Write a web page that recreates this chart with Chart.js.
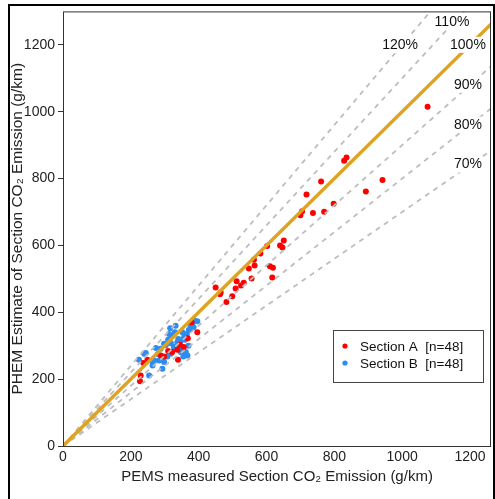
<!DOCTYPE html>
<html>
<head>
<meta charset="utf-8">
<script src="https://cdn.jsdelivr.net/npm/chart.js@4"></script>
<style>
  html, body { margin: 0; padding: 0; background: #fff; overflow: hidden; }
  #wrap { position: relative; width: 495px; height: 499px; }
  #myChart { position: absolute; left: 0; top: 0; }
  #frame { position: absolute; left: 8px; top: 4px; width: 483px; height: 600px; border: 2px solid #000; pointer-events: none; }
</style>
</head>
<body>
<div id="wrap">
  <canvas id="myChart" width="495" height="499"></canvas>
  <div id="frame"></div>
</div>
<script>
// Section A (red) - PEMS measured vs PHEM estimate, g/km
var sectionA = [
  [1075, 1015], [836, 863], [829, 853], [942, 796], [893, 761], [761, 791],
  [718, 752], [798, 725], [770, 701], [737, 697], [705, 702], [651, 615],
  [647, 594], [602, 598], [582, 576], [563, 557], [565, 540], [548, 531],
  [610, 538], [619, 533], [512, 493], [533, 488], [556, 501], [617, 504],
  [509, 471], [499, 448], [482, 431], [465, 459], [450, 474], [463, 454],
  [379, 370], [396, 340], [339, 258], [310, 284], [288, 271], [249, 258],
  [237, 248], [229, 211], [227, 194], [337, 288], [322, 281], [345, 303],
  [368, 322], [298, 268], [525, 480], [640, 600], [700, 690], [356, 296]
];
// Section B (blue)
var sectionB = [
  [396, 373], [332, 360], [316, 352], [313, 335], [322, 330], [371, 347],
  [376, 360], [365, 335], [357, 325], [347, 315], [342, 304], [332, 296],
  [318, 307], [303, 301], [288, 291], [274, 293], [308, 268], [318, 276],
  [362, 281], [367, 271], [355, 268], [244, 278], [224, 258], [264, 251],
  [283, 256], [293, 231], [254, 211], [298, 251], [376, 350], [337, 310],
  [298, 306], [347, 281], [327, 296], [269, 256], [298, 266], [264, 241],
  [239, 276], [380, 365], [388, 375], [352, 340], [360, 318], [340, 320],
  [330, 340], [385, 355], [345, 292], [310, 318], [370, 300], [280, 275]
];
// estimate / measured ratio lines
var ratios = [0.7, 0.8, 0.9, 1.1, 1.2];
var ratioLabels = ['70%', '80%', '90%', '100%', '110%', '120%'];
var labelRatios = [0.7, 0.8, 0.9, 1.0, 1.1, 1.2];
var labelAtX = [1194, 1194, 1194, 1194, 1147, 994];
var xTicks = [0, 200, 400, 600, 800, 1000, 1200];
var yTicks = [0, 200, 400, 600, 800, 1000, 1200];

var XMAX = 1262, YMAX = 1300;
var FONT = '"Liberation Sans", Arial, Helvetica, sans-serif';

function toPts(arr) {
  return arr.map(function (p) { return { x: p[0], y: p[1] }; });
}

var datasets = [];
datasets.push({
  type: 'line',
  label: 'ratio 100%',
  data: [{ x: 0, y: 0 }, { x: 1400, y: 1400 }],
  borderColor: '#DEA322',
  borderWidth: 3.5,
  pointRadius: 0,
  order: 0
});
ratios.forEach(function (r) {
  datasets.push({
    type: 'line',
    label: 'ratio ' + Math.round(r * 100) + '%',
    data: [{ x: 0, y: 0 }, { x: 1600, y: 1600 * r }],
    borderColor: '#BDBDBD',
    borderWidth: 1.8,
    borderDash: [5, 5],
    pointRadius: 0,
    order: 1
  });
});
datasets.push({
  label: 'Section A',
  note: '[n=48]',
  data: toPts(sectionA),
  backgroundColor: '#FF0000',
  borderColor: '#FF0000',
  pointRadius: 3,
  borderWidth: 0,
  order: 2
});
datasets.push({
  label: 'Section B',
  note: '[n=48]',
  data: toPts(sectionB),
  backgroundColor: '#2B8CF2',
  borderColor: '#2B8CF2',
  pointRadius: 3,
  borderWidth: 0,
  order: 3
});

var extras = {
  id: 'extras',
  afterDatasetsDraw: function (chart) {
    var c = chart.ctx, a = chart.chartArea;
    var xs = chart.scales.x, ys = chart.scales.y;
    c.save();
    // plot box
    c.strokeStyle = '#333';
    c.lineWidth = 1;
    c.strokeRect(a.left + 0.5, a.top + 0.5, a.right - a.left - 1, a.bottom - a.top);
    // ratio labels
    c.font = '14px ' + FONT;
    c.textAlign = 'center';
    c.textBaseline = 'middle';
    labelRatios.forEach(function (r, i) {
      var px = xs.getPixelForValue(labelAtX[i]);
      var py = ys.getPixelForValue(labelAtX[i] * r) - 2;
      var w = c.measureText(ratioLabels[i]).width;
      c.fillStyle = '#fff';
      c.fillRect(px - w / 2 - 1, py - 8, w + 2, 16);
      c.fillStyle = '#111';
      c.fillText(ratioLabels[i], px, py);
    });
    // legend box
    var lx = a.right - 158, ly = a.bottom - 116, lw = 150, lh = 52;
    c.fillStyle = '#fff';
    c.fillRect(lx, ly, lw, lh);
    c.strokeStyle = '#444';
    c.strokeRect(lx + 0.5, ly + 0.5, lw, lh);
    c.textAlign = 'left';
    c.font = '13.5px ' + FONT;
    var items = chart.data.datasets.filter(function (d) { return d.note; });
    items.forEach(function (d, i) {
      var cy = ly + 16 + i * 17;
      c.fillStyle = d.backgroundColor;
      c.beginPath();
      c.arc(lx + 12, cy, 2.6, 0, Math.PI * 2);
      c.fill();
      c.fillStyle = '#111';
      c.fillText(d.label + '  ' + d.note, lx + 27, cy + 1);
    });
    c.restore();
  }
};

var ctx = document.getElementById('myChart').getContext('2d');
var myChart = new Chart(ctx, {
  type: 'scatter',
  data: { datasets: datasets },
  plugins: [extras],
  options: {
    responsive: false,
    animation: false,
    layout: { padding: { top: 9, right: 4, left: 0, bottom: 0 } },
    plugins: {
      legend: { display: false },
      tooltip: { enabled: false }
    },
    scales: {
      x: {
        type: 'linear',
        min: 0,
        max: XMAX,
        afterFit: function (s) { s.height = 53; },
        afterBuildTicks: function (s) { s.ticks = xTicks.map(function (v) { return { value: v }; }); },
        grid: { display: false, drawTicks: false },
        border: { display: false },
        ticks: {
          color: '#222', padding: 3, maxRotation: 0,
          font: { family: FONT, size: 14 },
          callback: function (v) { return String(v); }
        },
        title: {
          display: true,
          text: 'PEMS measured Section CO\u2082 Emission (g/km)',
          color: '#222',
          font: { family: FONT, size: 15 },
          padding: { top: 0, bottom: 13 }
        }
      },
      y: {
        type: 'linear',
        min: 0,
        max: YMAX,
        afterFit: function (s) { s.width = 63; },
        afterBuildTicks: function (s) { s.ticks = yTicks.map(function (v) { return { value: v }; }); },
        grid: { drawOnChartArea: false, drawTicks: true, tickLength: 5, color: '#333' },
        border: { display: false },
        ticks: {
          color: '#222', padding: 3,
          font: { family: FONT, size: 14 },
          callback: function (v) { return String(v); }
        },
        title: {
          display: true,
          text: 'PHEM Estimate of Section CO\u2082 Emission (g/km)',
          color: '#222',
          font: { family: FONT, size: 15.5 },
          padding: { top: 8, bottom: 0 }
        }
      }
    }
  }
});
</script>
</body>
</html>
